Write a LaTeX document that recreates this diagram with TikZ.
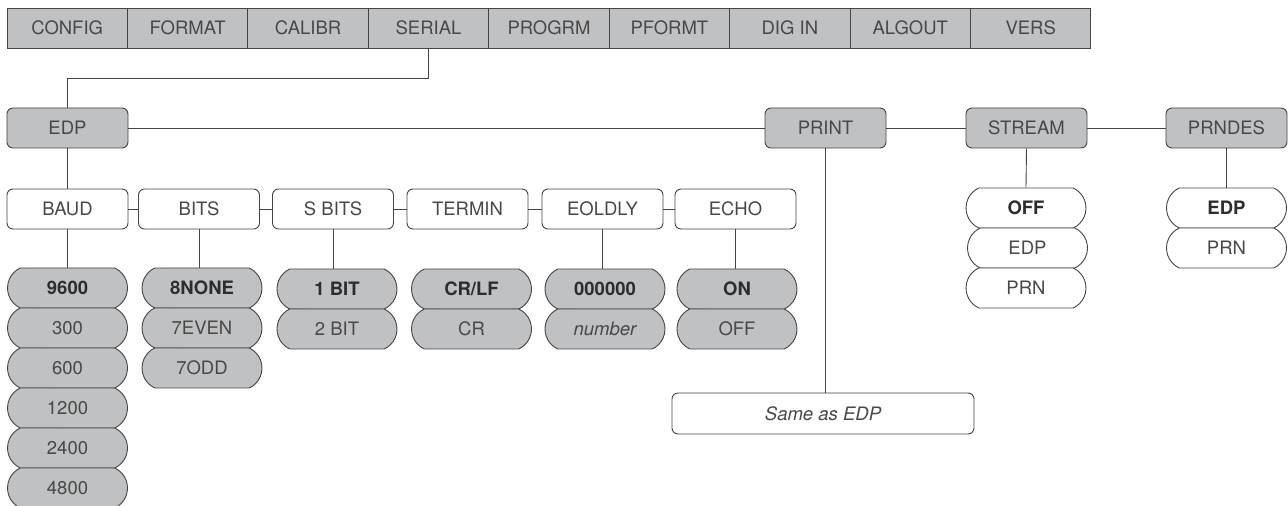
\documentclass[tikz,border=0pt]{standalone}
\usepackage{fontspec}
\setmainfont{TeX Gyre Heros}
\usetikzlibrary{shapes.misc}

\definecolor{menufill}{RGB}{192,193,195}
\definecolor{linegray}{RGB}{68,68,68}
\definecolor{textgray}{RGB}{72,72,72}
\definecolor{boldgray}{RGB}{45,45,45}

\begin{document}
\begin{tikzpicture}[
x=1bp, y=-1bp,
every node/.style={font=\fontsize{18.5bp}{21bp}\selectfont, text=textgray},
menu/.style={rectangle, draw=linegray, fill=menufill, line width=0.9bp, minimum width=120.4bp, minimum height=40bp, inner sep=0pt, outer sep=0pt},
group/.style={rectangle, rounded corners=6bp, draw=linegray, fill=menufill, line width=0.9bp, minimum width=121bp, minimum height=40bp, inner sep=0pt},
param/.style={group, fill=white},
choice/.style={rounded rectangle, rounded rectangle arc length=130, draw=linegray, fill=menufill, line width=0.9bp, minimum width=120bp, minimum height=40bp, inner sep=0pt},
default/.style={choice, font=\fontsize{18.5bp}{21bp}\selectfont\bfseries, text=boldgray},
link/.style={draw=linegray, line width=0.9bp},
]
\useasboundingbox (0,0) rectangle (1288,506);

\node [menu] (CONFIG) at (67.2,28) {CONFIG};
\node [menu] (FORMAT) at (187.7,28) {FORMAT};
\node [menu] (CALIBR) at (308.1,28) {CALIBR};
\node [menu] (SERIAL) at (428.5,28) {SERIAL};
\node [menu] (PROGRM) at (549.0,28) {PROGRM};
\node [menu] (PFORMT) at (669.4,28) {PFORMT};
\node [menu] (DIGIN) at (789.9,28) {DIG IN};
\node [menu] (ALGOUT) at (910.3,28) {ALGOUT};
\node [menu] (VERS) at (1030.7,28) {VERS};

\node [group] (EDP) at (67.5,128) {EDP};
\node [group] (PRINT) at (825.5,128) {PRINT};
\node [group] (STREAM) at (1026.5,128) {STREAM};
\node [group] (PRNDES) at (1226.5,128) {PRNDES};

\node [param] (BAUD) at (67.5,209) {BAUD};
\node [param] (BITS) at (199,209) {BITS};
\node [param] (SBITS) at (333,209) {S BITS};
\node [param] (TERMIN) at (467.5,209) {TERMIN};
\node [param] (EOLDLY) at (602.5,209) {EOLDLY};
\node [param] (ECHO) at (735.5,209) {ECHO};

\node [default] (Baud9600) at (67.5,288) {9600};
\node [choice] (Baud300) at (67.5,328) {300};
\node [choice] (Baud600) at (67.5,368) {600};
\node [choice] (Baud1200) at (67.5,408) {1200};
\node [choice] (Baud2400) at (67.5,448) {2400};
\node [choice] (Baud4800) at (67.5,488) {4800};

\node [default] (BitsN) at (202,288) {8NONE};
\node [choice] (BitsE) at (202,328) {7EVEN};
\node [choice] (BitsO) at (202,368) {7ODD};

\node [default] (SBitsA) at (337,289) {1 BIT};
\node [choice] (SBitsB) at (337,329) {2 BIT};

\node [default] (TermA) at (471.5,289) {CR/LF};
\node [choice] (TermB) at (471.5,329) {CR};

\node [default] (DelayA) at (605,289) {000000};
\node [choice] (DelayB) at (605,329) {\itshape number};

\node [default] (EchoA) at (737,289) {ON};
\node [choice] (EchoB) at (737,329) {OFF};

\node [param] (SameEDP) [minimum width=302bp, minimum height=41bp] at (823,413.5) {\itshape Same as EDP};

\node [default] [fill=white] (StrOff) at (1026,208) {OFF};
\node [choice] [fill=white] (StrEDP) at (1027.5,248) {EDP};
\node [choice] [fill=white] (StrPRN) at (1026,288) {PRN};

\node [default] [fill=white] (DesEDP) at (1226.5,208) {EDP};
\node [choice] [fill=white] (DesPRN) at (1226.5,248) {PRN};

\draw[link] (SERIAL.south) -- ++(0,30) -| (EDP.north);
\draw[link] (EDP.east) -- (PRINT.west);
\draw[link] (PRINT.east) -- (STREAM.west);
\draw[link] (STREAM.east) -- (PRNDES.west);
\draw[link] (EDP.south) -- (BAUD.north);
\draw[link] (BAUD.east) -- (BITS.west);
\draw[link] (BITS.east) -- (SBITS.west);
\draw[link] (SBITS.east) -- (TERMIN.west);
\draw[link] (TERMIN.east) -- (EOLDLY.west);
\draw[link] (EOLDLY.east) -- (ECHO.west);
\draw[link] (BAUD.south) -- (Baud9600.north);
\draw[link] (BITS.south) -- (BITS.south |- BitsN.north);
\draw[link] (SBITS.south) -- (SBITS.south |- SBitsA.north);
\draw[link] (EOLDLY.south) -- (EOLDLY.south |- DelayA.north);
\draw[link] (ECHO.south) -- (ECHO.south |- EchoA.north);
\draw[link] (PRINT.south) -- (PRINT.south |- SameEDP.north);
\draw[link] (STREAM.south) -- (StrOff.north);
\draw[link] (PRNDES.south) -- (DesEDP.north);
\end{tikzpicture}
\end{document}
